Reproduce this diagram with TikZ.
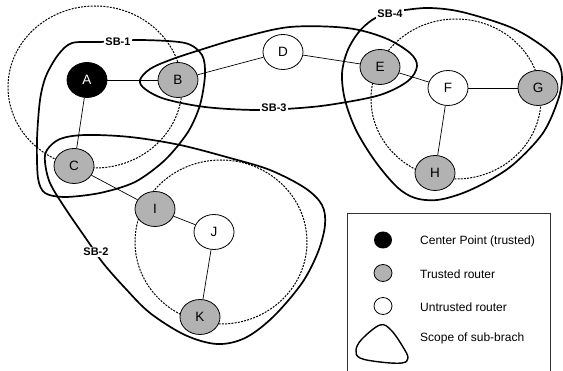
\documentclass[tikz,border=0pt]{standalone}
\usepackage{fontspec}
\setmainfont{Liberation Sans}
\usetikzlibrary{shapes.geometric}
\definecolor{trustgray}{RGB}{178,178,178}
\begin{document}
\begin{tikzpicture}[x=1pt,y=-1pt,
  router/.style={ellipse, draw, line width=0.8pt, minimum width=40pt, minimum height=35pt, inner sep=0pt, font=\fontsize{13.5}{15}\selectfont},
  centerpt/.style={router, fill=black, text=white},
  trusted/.style={router, fill=trustgray},
  untrusted/.style={router, fill=white},
  link/.style={line width=0.7pt},
  zone/.style={draw, dash pattern=on 2pt off 1.2pt, line width=1pt},
  scopeline/.style={line width=1.7pt},
  sblabel/.style={fill=white, inner sep=1.5pt, font=\bfseries\fontsize{11}{13}\selectfont},
  legtext/.style={anchor=west, inner sep=0pt, font=\fontsize{12}{14}\selectfont},
  legsym/.style={ellipse, minimum width=18pt, minimum height=17pt, inner sep=0pt, line width=0.8pt},
]
\useasboundingbox (0,0) rectangle (563,371);

% dashed zones
\draw[zone] (95,87) ellipse [x radius=87pt, y radius=81pt];
\draw[zone] (456,99) ellipse [x radius=85pt, y radius=80pt];
\draw[zone] (221,242) ellipse [x radius=86pt, y radius=82pt];

% sub-branch scopes
% SB-1
\draw[scopeline] plot[smooth cycle, tension=0.5] coordinates {
  (72,43) (100,42) (140,40) (185,43) (202,55) (205,75) (200,105) (188,132)
  (165,160) (135,182) (100,193) (65,197) (45,193) (38,178) (37,140) (40,100) (46,76) (58,55)};
% SB-2
\draw[scopeline] plot[smooth cycle, tension=0.55] coordinates {
  (47,150) (60,139) (85,135) (130,137) (180,145) (230,158) (270,170) (305,188)
  (322,205) (325,225) (318,252) (302,283) (273,317) (245,338) (217,344) (185,335)
  (150,313) (125,288) (103,263) (87,240) (65,208) (50,183) (45,162)};
% SB-3
\draw[scopeline] plot[smooth cycle, tension=0.55] coordinates {
  (140,80) (150,69) (170,60) (200,50) (240,38) (290,27) (347,28) (385,38)
  (410,53) (417,66) (408,81) (380,95) (335,104) (300,108) (255,110) (205,107)
  (165,99) (145,89)};
% SB-4
\draw[scopeline] plot[smooth cycle, tension=0.55] coordinates {
  (388,13) (372,20) (358,33) (347,52) (342,74) (345,100) (356,130) (375,161)
  (397,187) (415,198) (437,200) (463,193) (490,180) (515,163) (543,133)
  (558,100) (562,77) (557,60) (541,45) (510,27) (462,12) (430,8) (405,10)};

\node[sblabel] (sb1) at (118,42) {SB-1};
\node[sblabel] (sb2) at (96,252) {SB-2};
\node[sblabel] (sb3) at (274,108) {SB-3};
\node[sblabel] (sb4) at (390,14) {SB-4};

% routers
\node[centerpt] (A) at (87,80) {A};
\node[trusted] (B) at (178,80) {B};
\node[trusted] (C) at (74,166) {C};
\node[untrusted] (D) at (283,52) {D};
\node[trusted] (E) at (380,67) {E};
\node[untrusted] (F) at (448,88) {F};
\node[trusted] (G) at (538,88) {G};
\node[trusted] (H) at (435,173) {H};
\node[trusted] (I) at (155,209) {I};
\node[untrusted] (J) at (214,232) {J};
\node[trusted] (K) at (200,317) {K};

% links
\draw[link] (A) -- (B);
\draw[link] (A) -- (C);
\draw[link] (B) -- (D);
\draw[link] (D) -- (E);
\draw[link] (E) -- (F);
\draw[link] (F) -- (G);
\draw[link] (F) -- (H);
\draw[link] (C) -- (I);
\draw[link] (I) -- (J);
\draw[link] (J) -- (K);

% legend
\coordinate (lbl) at (347,371);
\coordinate (ltl) at (347,213);
\coordinate (ltr) at (550,213);
\coordinate (lbr) at (550,371);
\draw[line width=0.8pt, draw=black!80] (lbl) -- (ltl) -- (ltr) -- (lbr);
\node[legsym, fill=black] (l1) at (383,240) {};
\node[legtext] (t1) at (420,241) {Center Point (trusted)};
\node[legsym, fill=trustgray, draw] (l2) at (383,273) {};
\node[legtext] (t2) at (420,274) {Trusted router};
\node[legsym, fill=white, draw] (l3) at (383,306) {};
\node[legtext] (t3) at (420,307) {Untrusted router};
\draw[line width=1.4pt] plot[smooth cycle, tension=0.6] coordinates {
  (356,350) (362,339) (380,325) (391,330) (403,347) (408,358) (402,363)
  (380,362) (360,358)};
\node[legtext] (t4) at (420,338) {Scope of sub-brach};
\end{tikzpicture}
\end{document}
